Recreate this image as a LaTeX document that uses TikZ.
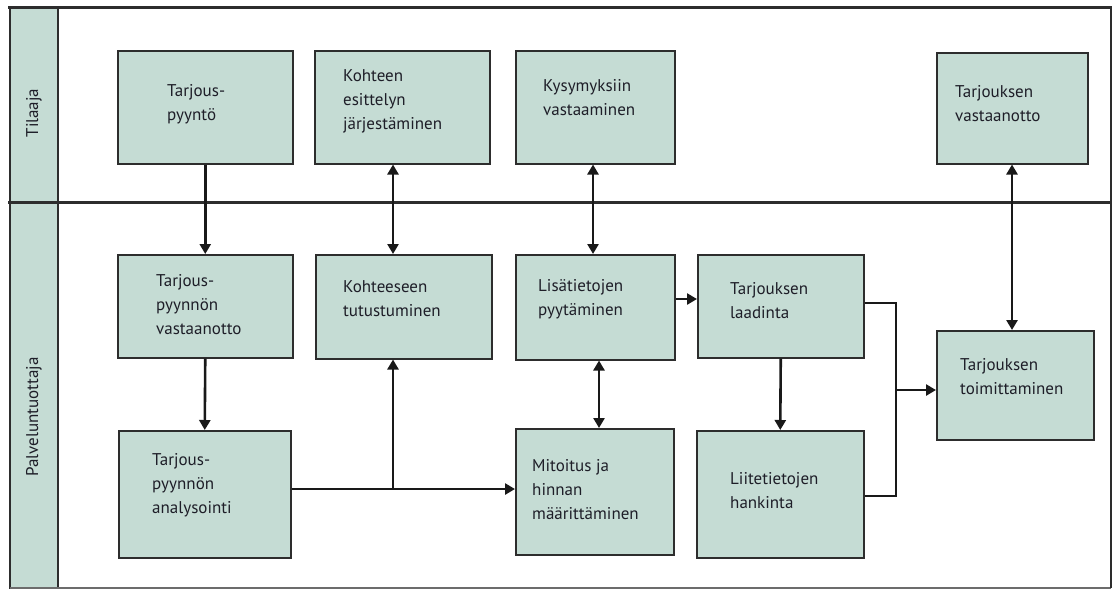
\documentclass[tikz,border=0pt]{standalone}
\usepackage{fontspec}
\setmainfont{PT Sans}
\usetikzlibrary{arrows.meta}
\definecolor{boxfill}{RGB}{197,220,212}
\definecolor{edgec}{RGB}{45,45,45}
\definecolor{ink}{RGB}{30,30,40}
\newcommand\procbox[8]{%
  \node[pbox, anchor=north west, minimum width={#4-#2}, minimum height={#5-#3}] (#1) at (#2,#3) {};
  \node[ptxt, anchor=west] (#1-t) at (#6,#7) {#8};
}
\begin{document}
\begin{tikzpicture}[x=1pt,y=-1pt,
  pbox/.style={draw=edgec, line width=1.5pt, fill=boxfill, rectangle, inner sep=0pt},
  ptxt/.style={text=ink, align=left, inner sep=0pt, font=\fontsize{17}{24}\selectfont},
  lane/.style={text=ink, inner sep=0pt, rotate=90, font=\fontsize{17}{24}\selectfont},
  conn/.style={draw=black!90, line width=2.6pt},
  arr/.style={conn, -{Triangle[length=10pt,width=11pt]}},
  arrb/.style={conn, {Triangle[length=10pt,width=11pt]}-{Triangle[length=10pt,width=11pt]}}]
\useasboundingbox (0,0) rectangle (1113,590);
% frame and lanes
\fill[white] (0,0) rectangle (1113,590);
\filldraw[fill=boxfill, draw=edgec, line width=1.4pt] (10,7) rectangle (58,588);
\draw[edgec!70, line width=1.2pt] (10,588) -- (1111,588);
\draw[edgec, line width=1.5pt] (1111,7) -- (1111,588);
\draw[edgec, line width=3pt] (8,7) -- (1112,7);
\draw[edgec, line width=3pt] (8,202) -- (1112,202);
\node[lane] (tilaaja) at (34,113) {Tilaaja};
\node[lane] (palvelu) at (34,417) {Palveluntuottaja};
% boxes
\procbox{tp}{117}{50}{292}{163}{167}{104}{Tarjous-\\pyyntö}
\procbox{ke}{314}{50}{489}{163}{343}{101}{Kohteen\\esittelyn\\järjestäminen}
\procbox{kv}{515}{50}{674}{163}{543}{98}{Kysymyksiin\\vastaaminen}
\procbox{tv}{936}{52}{1087}{163}{955}{104}{Tarjouksen\\vastaanotto}
\procbox{tpv}{117}{254}{292}{357}{156}{305}{Tarjous-\\pyynnön\\vastaanotto}
\procbox{kt}{315}{254}{491}{358}{343}{299}{Kohteeseen\\tutustuminen}
\procbox{lp}{515}{254}{674}{359}{538}{299}{Lisätietojen\\pyytäminen}
\procbox{tl}{697}{254}{863}{357}{730}{301}{Tarjouksen\\laadinta}
\procbox{tt}{936}{330}{1093}{439}{960}{377}{Tarjouksen\\toimittaminen}
\procbox{tpa}{118}{430}{290}{557}{152}{485}{Tarjous-\\pyynnön\\analysointi}
\procbox{mh}{515}{428}{673}{554}{532}{490}{Mitoitus ja\\hinnan\\määrittäminen}
\procbox{lh}{696}{430}{863}{557}{730}{491}{Liitetietojen\\hankinta}
% helper coordinates
\coordinate (xk) at (393,0);
\coordinate (xq) at (593,0);
\coordinate (xv) at (1012,0);
\coordinate (xl) at (599,0);
\coordinate (ym) at (0,489);
\coordinate (jk) at (393,489);
\coordinate (yl) at (0,299);
\coordinate (ja) at (896,303);
\coordinate (jb) at (896,496);
\coordinate (jc) at (896,390);
% connectors
\draw[arr] (tp.south) -- (tpv.north);
\draw[arr] (tpv.south) -- (tpa.north);
\draw[arrb] (ke.south -| xk) -- (kt.north -| xk);
\draw[arrb] (kv.south -| xq) -- (lp.north -| xq);
\draw[arrb] (tv.south -| xv) -- (tt.north -| xv);
\draw[arr] (tpa.east |- ym) -- (mh.west |- ym);
\draw[arr] (jk) -- (kt.south -| jk);
\draw[arrb] (lp.south -| xl) -- (mh.north -| xl);
\draw[arr] (lp.east |- yl) -- (tl.west |- yl);
\draw[arr] (tl.south) -- (lh.north);
\draw[conn] (tl.east |- ja) -- (ja) -- (jb) -- (lh.east |- jb);
\draw[arr] (jc) -- (tt.west |- jc);
\end{tikzpicture}
\end{document}
